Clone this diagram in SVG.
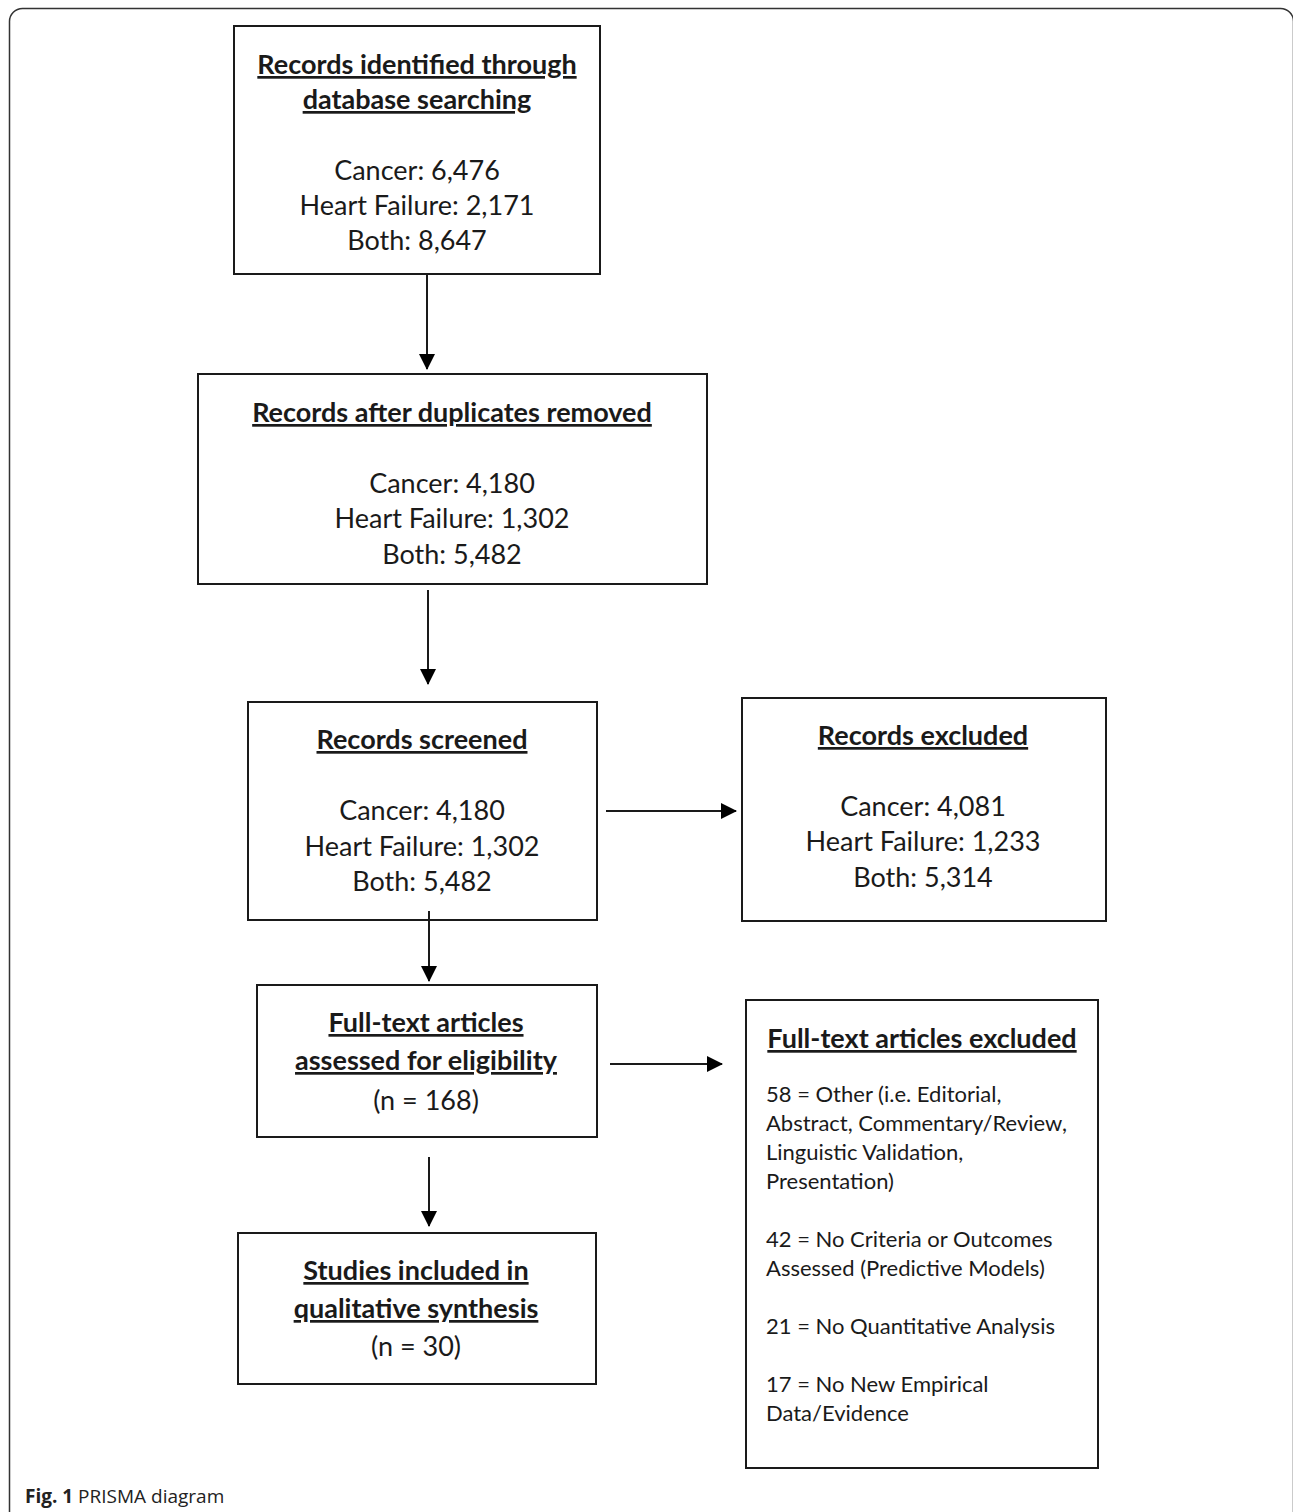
<svg xmlns="http://www.w3.org/2000/svg" width="1293" height="1512" viewBox="0 0 1293 1512">
<defs>
<marker id="ah" markerWidth="16" markerHeight="16" viewBox="0 0 16 16" refX="15" refY="8" orient="auto" markerUnits="userSpaceOnUse">
<path d="M0,0 L16,8 L0,16 Z" fill="#000"/>
</marker>
</defs>
<style>
.box{fill:#fff;stroke:#1a1a1a;stroke-width:2}
.t{font-family:Lato,"Open Sans",sans-serif;font-size:27px;fill:#1a1a1a;text-anchor:middle}
.h{font-weight:bold;text-decoration:underline}
.s{font-family:Lato,"Open Sans",sans-serif;font-size:22px;fill:#1a1a1a}
.c{stroke:#1a1a1a;stroke-width:2;fill:none;marker-end:url(#ah)}
.cap{font-family:"Open Sans",sans-serif;font-size:19px;fill:#222}
</style>
<rect x="0" y="0" width="1293" height="1512" fill="#fff"/>
<rect x="9.5" y="8.5" width="1284" height="1530" rx="13" fill="none" stroke="#333" stroke-width="1.5"/>

<g id="n1">
<rect class="box" x="234" y="26" width="366" height="248"/>
<text class="t h" x="417" y="74">Records identified through</text>
<text class="t h" x="417" y="109">database searching</text>
<text class="t" x="417" y="180">Cancer: 6,476</text>
<text class="t" x="417" y="215">Heart Failure: 2,171</text>
<text class="t" x="417" y="250">Both: 8,647</text>
</g>

<g id="n2">
<rect class="box" x="198" y="374" width="509" height="210"/>
<text class="t h" x="452" y="422">Records after duplicates removed</text>
<text class="t" x="452" y="493">Cancer: 4,180</text>
<text class="t" x="452" y="528">Heart Failure: 1,302</text>
<text class="t" x="452" y="564">Both: 5,482</text>
</g>

<g id="n3">
<rect class="box" x="248" y="702" width="349" height="218"/>
<text class="t h" x="422" y="749">Records screened</text>
<text class="t" x="422" y="820">Cancer: 4,180</text>
<text class="t" x="422" y="856">Heart Failure: 1,302</text>
<text class="t" x="422" y="891">Both: 5,482</text>
</g>

<g id="n4">
<rect class="box" x="742" y="698" width="364" height="223"/>
<text class="t h" x="923" y="745">Records excluded</text>
<text class="t" x="923" y="816">Cancer: 4,081</text>
<text class="t" x="923" y="851">Heart Failure: 1,233</text>
<text class="t" x="923" y="887">Both: 5,314</text>
</g>

<g id="n5">
<rect class="box" x="257" y="985" width="340" height="152"/>
<text class="t h" x="426" y="1032">Full-text articles</text>
<text class="t h" x="426" y="1070">assessed for eligibility</text>
<text class="t" x="426" y="1110">(n = 168)</text>
</g>

<g id="n6">
<rect class="box" x="746" y="1000" width="352" height="468"/>
<text class="t h" x="922" y="1048">Full-text articles excluded</text>
<text class="s" x="766" y="1102">58 = Other (i.e. Editorial,</text>
<text class="s" x="766" y="1131">Abstract, Commentary/Review,</text>
<text class="s" x="766" y="1160">Linguistic Validation,</text>
<text class="s" x="766" y="1189">Presentation)</text>
<text class="s" x="766" y="1247">42 = No Criteria or Outcomes</text>
<text class="s" x="766" y="1276">Assessed (Predictive Models)</text>
<text class="s" x="766" y="1334">21 = No Quantitative Analysis</text>
<text class="s" x="766" y="1392">17 = No New Empirical</text>
<text class="s" x="766" y="1421">Data/Evidence</text>
</g>

<g id="n7">
<rect class="box" x="238" y="1233" width="358" height="151"/>
<text class="t h" x="416" y="1280">Studies included in</text>
<text class="t h" x="416" y="1318">qualitative synthesis</text>
<text class="t" x="416" y="1356">(n = 30)</text>
</g>

<g id="connectors">
<line class="c" x1="427" y1="275" x2="427" y2="369"/>
<line class="c" x1="428" y1="590" x2="428" y2="684"/>
<line class="c" x1="606" y1="811" x2="736" y2="811"/>
<line class="c" x1="429" y1="911" x2="429" y2="981"/>
<line class="c" x1="610" y1="1064" x2="722" y2="1064"/>
<line class="c" x1="429" y1="1157" x2="429" y2="1226"/>
</g>

<text class="cap" x="25" y="1503"><tspan font-weight="bold">Fig. 1</tspan> PRISMA diagram</text>
</svg>
